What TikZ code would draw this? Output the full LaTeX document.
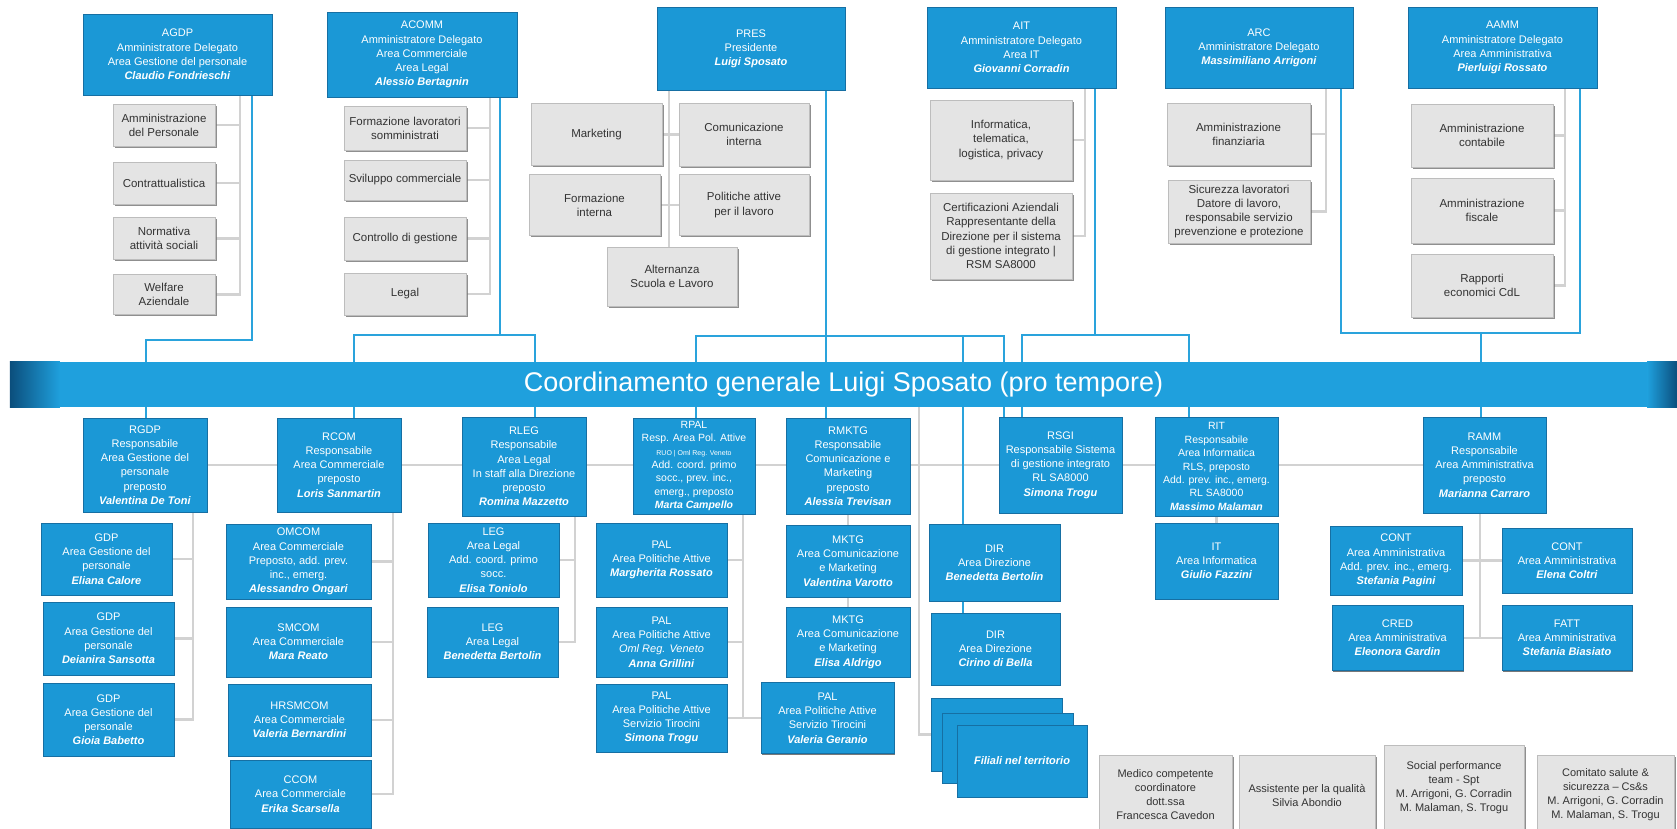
\documentclass[tikz,border=0pt]{standalone}
\usepackage{fontspec}
\setmainfont{Liberation Sans}
\usetikzlibrary{shadows}
\usetikzlibrary{positioning}
\usetikzlibrary{calc}
\usetikzlibrary{backgrounds}

\definecolor{boxblue}{HTML}{1B98D6}
\definecolor{boxedge}{HTML}{166FA3}
\definecolor{lineblue}{HTML}{2AA3DC}
\definecolor{bannerblue}{HTML}{1FA0DD}
\definecolor{bannerdark}{HTML}{0B4E7C}
\definecolor{boxgrey}{HTML}{E4E4E4}
\definecolor{greyedge}{HTML}{BDBDBD}
\definecolor{linegrey}{HTML}{D2D2D2}
\definecolor{textgrey}{HTML}{333333}

\newcommand{\who}[1]{\textbf{\textit{#1}}}

\begin{document}
\begin{tikzpicture}
  [x=1pt,y=-1pt,
  bluebox/.style={rectangle,draw=boxedge,fill=boxblue,text=white,thin,inner sep=1pt,align=center,
    font=\fontsize{11}{14.2}\selectfont,
    drop shadow={shadow xshift=1.3pt,shadow yshift=-1.3pt,fill=black!75,opacity=0.7}},
  tightbox/.style={bluebox,font=\fontsize{10.5}{13.4}\selectfont},
  greybox/.style={rectangle,draw=greyedge,fill=boxgrey,text=textgrey,thin,inner sep=1pt,align=center,
    font=\fontsize{11.5}{14.2}\selectfont,
    drop shadow={shadow xshift=1.6pt,shadow yshift=-1.6pt,fill=black!55,opacity=0.8}},
  notebox/.style={greybox,font=\fontsize{11}{14}\selectfont},
  bannerbar/.style={rectangle,fill=bannerblue,text=white,inner sep=0pt,font=\fontsize{27}{30}\selectfont},
  blueline/.style={draw=lineblue,line width=2.8pt},
  greyline/.style={draw=linegrey,line width=2.2pt}]
  \useasboundingbox (0,0) rectangle (1677,828);

  % top row
  \node[bluebox,minimum width=189,minimum height=81] (agdp) at (177.5,54.5) {AGDP\\Amministratore Delegato\\Area Gestione del personale\\\who{Claudio Fondrieschi}};
  \node[bluebox,minimum width=190,minimum height=85] (acomm) at (422,54.5) {ACOMM\\Amministratore Delegato\\Area Commerciale\\Area Legal\\\who{Alessio Bertagnin}};
  \node[bluebox,minimum width=188,minimum height=83] (pres) at (751,48.5) {PRES\\Presidente\\\who{Luigi Sposato}};
  \node[bluebox,minimum width=189,minimum height=81] (ait) at (1021.5,47.5) {AIT\\Amministratore Delegato\\Area IT\\\who{Giovanni Corradin}};
  \node[bluebox,minimum width=188,minimum height=81] (arc) at (1259,47.5) {ARC\\Amministratore Delegato\\\who{Massimiliano Arrigoni}};
  \node[bluebox,minimum width=189,minimum height=81] (aamm) at (1502.5,47.5) {AAMM\\Amministratore Delegato\\Area Amministrativa\\\who{Pierluigi Rossato}};

  \node[greybox,minimum width=102,minimum height=42] (amper) at (164,125) {Amministrazione\\del Personale};
  \node[greybox,minimum width=102,minimum height=42] (contr) at (164,183) {Contrattualistica};
  \node[greybox,minimum width=102,minimum height=42] (norm) at (164,238.5) {Normativa\\attività sociali};
  \node[greybox,minimum width=102,minimum height=40] (welf) at (164,294.5) {Welfare\\Aziendale};

  \node[greybox,minimum width=122,minimum height=44] (formaz) at (405,128) {Formazione lavoratori\\somministrati};
  \node[greybox,minimum width=122,minimum height=40] (svil) at (405,180) {Sviluppo commerciale};
  \node[greybox,minimum width=122,minimum height=43] (contg) at (405,238.5) {Controllo di gestione};
  \node[greybox,minimum width=122,minimum height=42] (legal) at (405,294) {Legal};

  \node[greybox,minimum width=131,minimum height=62] (mark) at (596.5,134.5) {Marketing};
  \node[greybox,minimum width=130,minimum height=63] (comint) at (744,134.5) {Comunicazione\\interna};
  \node[greybox,minimum width=131,minimum height=61] (formint) at (594.5,205) {Formazione\\interna};
  \node[greybox,minimum width=130,minimum height=61] (polatt) at (744,205) {Politiche attive\\per il lavoro};
  \node[greybox,minimum width=130,minimum height=59] (altern) at (672,276.5) {Alternanza\\Scuola e Lavoro};

  \node[greybox,minimum width=142,minimum height=80] (inform) at (1001,140) {Informatica,\\telematica,\\logistica, privacy};
  \node[greybox,minimum width=142,minimum height=86] (certif) at (1001,236) {Certificazioni Aziendali\\Rappresentante della\\Direzione per il sistema\\di gestione integrato |\\RSM SA8000};

  \node[greybox,minimum width=143,minimum height=62] (ammfin) at (1238.5,134) {Amministrazione\\finanziaria};
  \node[greybox,minimum width=142,minimum height=63] (sicur) at (1239,211.5) {Sicurezza lavoratori\\Datore di lavoro,\\responsabile servizio\\prevenzione e protezione};

  \node[greybox,minimum width=142,minimum height=63] (ammcont) at (1482,135.5) {Amministrazione\\contabile};
  \node[greybox,minimum width=142,minimum height=65] (ammfisc) at (1482,210.5) {Amministrazione\\fiscale};
  \node[greybox,minimum width=142,minimum height=63] (rapp) at (1482,285.5) {Rapporti\\economici CdL};

  % coordinamento
  \node[bannerbar,minimum width=1667,minimum height=45] (banner) at (843.5,384.5) {Coordinamento generale Luigi Sposato (pro tempore)};
  \shade[left color=bannerdark,right color=bannerblue] (banner.north west) rectangle ($(banner.south west)+(50,0)$);
  \shade[left color=bannerblue,right color=bannerdark] ($(banner.north east)+(-30,0)$) rectangle (banner.south east);

  % responsabili
  \node[bluebox,minimum width=124,minimum height=94] (rgdp) at (145,465) {RGDP\\Responsabile\\Area Gestione del\\personale\\preposto\\\who{Valentina De Toni}};
  \node[bluebox,minimum width=124,minimum height=94] (rcom) at (339,465) {RCOM\\Responsabile\\Area Commerciale\\preposto\\\who{Loris Sanmartin}};
  \node[bluebox,minimum width=124,minimum height=99] (rleg) at (524,466.5) {RLEG\\Responsabile\\Area Legal\\In staff alla Direzione\\preposto\\\who{Romina Mazzetto}};
  \node[tightbox,minimum width=122,minimum height=96] (rpal) at (694,466) {RPAL\\Resp. Area Pol. Attive\\{\fontsize{7}{8}\selectfont RUO | Oml Reg. Veneto}\\Add. coord. primo\\socc., prev. inc.,\\emerg., preposto\\\who{Marta Campello}};
  \node[bluebox,minimum width=124,minimum height=96] (rmktg) at (848,466) {RMKTG\\Responsabile\\Comunicazione e\\Marketing\\preposto\\\who{Alessia Trevisan}};
  \node[bluebox,minimum width=123,minimum height=96] (rsgi) at (1060.5,465) {RSGI\\Responsabile Sistema\\di gestione integrato\\RL SA8000\\\who{Simona Trogu}};
  \node[tightbox,minimum width=123,minimum height=99] (rit) at (1216.5,466.5) {RIT\\Responsabile\\Area Informatica\\RLS, preposto\\Add. prev. inc., emerg.\\RL SA8000\\\who{Massimo Malaman}};
  \node[bluebox,minimum width=123,minimum height=96] (ramm) at (1484.5,465) {RAMM\\Responsabile\\Area Amministrativa\\preposto\\\who{Marianna Carraro}};

  \node[bluebox,minimum width=131,minimum height=72] (gdpa) at (106.5,559) {GDP\\Area Gestione del\\personale\\\who{Eliana Calore}};
  \node[bluebox,minimum width=131,minimum height=73] (gdpb) at (108.5,638.5) {GDP\\Area Gestione del\\personale\\\who{Deianira Sansotta}};
  \node[bluebox,minimum width=131,minimum height=73] (gdpc) at (108.5,719.5) {GDP\\Area Gestione del\\personale\\\who{Gioia Babetto}};

  \node[bluebox,minimum width=145,minimum height=75] (omcom) at (298.5,561.5) {OMCOM\\Area Commerciale\\Preposto, add. prev.\\inc., emerg.\\\who{Alessandro Ongari}};
  \node[bluebox,minimum width=145,minimum height=70] (smcom) at (298.5,642) {SMCOM\\Area Commerciale\\\who{Mara Reato}};
  \node[bluebox,minimum width=143,minimum height=72] (hrsmcom) at (299.5,720) {HRSMCOM\\Area Commerciale\\\who{Valeria Bernardini}};
  \node[bluebox,minimum width=141,minimum height=68] (ccom) at (300.5,794) {CCOM\\Area Commerciale\\\who{Erika Scarsella}};

  \node[bluebox,minimum width=131,minimum height=74] (lega) at (493.5,560) {LEG\\Area Legal\\Add. coord. primo\\socc.\\\who{Elisa Toniolo}};
  \node[bluebox,minimum width=131,minimum height=70] (legb) at (492.5,642) {LEG\\Area Legal\\\who{Benedetta Bertolin}};

  \node[bluebox,minimum width=131,minimum height=74] (pala) at (661.5,560) {PAL\\Area Politiche Attive\\\who{Margherita Rossato}};
  \node[bluebox,minimum width=131,minimum height=70] (palb) at (661.5,642) {PAL\\Area Politiche Attive\\\textit{Oml Reg. Veneto}\\\who{Anna Grillini}};
  \node[bluebox,minimum width=131,minimum height=68] (palc) at (661.5,718) {PAL\\Area Politiche Attive\\Servizio Tirocini\\\who{Simona Trogu}};
  \node[bluebox,minimum width=133,minimum height=71] (pald) at (827.5,718) {PAL\\Area Politiche Attive\\Servizio Tirocini\\\who{Valeria Geranio}};

  \node[bluebox,minimum width=124,minimum height=72] (mktga) at (848,561) {MKTG\\Area Comunicazione\\e Marketing\\\who{Valentina Varotto}};
  \node[bluebox,minimum width=124,minimum height=70] (mktgb) at (848,642) {MKTG\\Area Comunicazione\\e Marketing\\\who{Elisa Aldrigo}};

  \node[bluebox,minimum width=131,minimum height=77] (dira) at (994.5,562.5) {DIR\\Area Direzione\\\who{Benedetta Bertolin}};
  \node[bluebox,minimum width=129,minimum height=72] (dirb) at (995.5,649) {DIR\\Area Direzione\\\who{Cirino di Bella}};
  \node[bluebox,minimum width=131,minimum height=73] (fila) at (996.5,734.5) {};
  \node[bluebox,minimum width=131,minimum height=70] (filb) at (1007.5,748) {};
  \node[bluebox,minimum width=130,minimum height=72] (filc) at (1022,761) {\who{Filiali nel territorio}};

  \node[bluebox,minimum width=123,minimum height=76] (it) at (1216.5,561) {IT\\Area Informatica\\\who{Giulio Fazzini}};

  \node[bluebox,minimum width=132,minimum height=69] (conta) at (1396,560.5) {CONT\\Area Amministrativa\\Add. prev. inc., emerg.\\\who{Stefania Pagini}};
  \node[bluebox,minimum width=130,minimum height=65] (contb) at (1567,560.5) {CONT\\Area Amministrativa\\\who{Elena Coltri}};
  \node[bluebox,minimum width=131,minimum height=65] (cred) at (1397.5,638) {CRED\\Area Amministrativa\\\who{Eleonora Gardin}};
  \node[bluebox,minimum width=130,minimum height=65] (fatt) at (1567,638) {FATT\\Area Amministrativa\\\who{Stefania Biasiato}};

  % staff
  \node[notebox,minimum width=133,minimum height=80] (medico) at (1165.5,795) {Medico competente\\coordinatore\\dott.ssa\\Francesca Cavedon};
  \node[notebox,minimum width=136,minimum height=80] (assist) at (1307,795) {Assistente per la qualità\\Silvia Abondio};
  \node[notebox,minimum width=140,minimum height=86] (social) at (1454,788) {Social performance\\team - Spt\\M. Arrigoni, G. Corradin\\M. Malaman, S. Trogu};
  \node[notebox,minimum width=137,minimum height=80] (comit) at (1605.5,795) {Comitato salute \&\\sicurezza -- Cs\&s\\M. Arrigoni, G. Corradin\\M. Malaman, S. Trogu};

  \coordinate (agdpbus) at (240,95);
  \coordinate (acommbus) at (490,97);
  \coordinate (presbus) at (669,90);
  \coordinate (aitbus) at (1085,88);
  \coordinate (arcbus) at (1326,88);
  \coordinate (aammbus) at (1565,88);

  \coordinate (agdpdrop) at (252,340);
  \coordinate (rgdpdrop) at (146,340);
  \coordinate (acommdrop) at (500,335);
  \coordinate (rcomdrop) at (354,335);
  \coordinate (rlegdrop) at (535,335);
  \coordinate (rpaldrop) at (696,336);
  \coordinate (presdrop) at (826,336);
  \coordinate (dirdrop) at (963,336);
  \coordinate (rsgidropa) at (1004,336);
  \coordinate (rsgidropb) at (1022,335);
  \coordinate (aitdrop) at (1095,335);
  \coordinate (ritdrop) at (1189,335);
  \coordinate (arcdrop) at (1341,333);
  \coordinate (rammdrop) at (1481,333);
  \coordinate (aammdrop) at (1580,333);

  \coordinate (rgdpbus) at (193,512);
  \coordinate (rcombus) at (393,512);
  \coordinate (rlegbus) at (575,516);
  \coordinate (rpalbus) at (743,514);
  \coordinate (rammbus) at (1480,513);
  \coordinate (filbus) at (919,407);

  \begin{scope}[on background layer]
  \fill[white] (0,0) rectangle (1677,828);

  \draw[greyline] (agdp.south -| agdpbus) |- (welf.east);
  \draw[greyline] (amper.east) -- (amper.east -| agdpbus);
  \draw[greyline] (contr.east) -- (contr.east -| agdpbus);
  \draw[greyline] (norm.east) -- (norm.east -| agdpbus);

  \draw[greyline] (acomm.south -| acommbus) |- (legal.east);
  \draw[greyline] (formaz.east) -- (formaz.east -| acommbus);
  \draw[greyline] (svil.east) -- (svil.east -| acommbus);
  \draw[greyline] (contg.east) -- (contg.east -| acommbus);

  \draw[greyline] (pres.south -| presbus) -- (altern.north -| presbus);
  \draw[greyline] (mark.east) -- (comint.west);
  \draw[greyline] (formint.east) -- (polatt.west);

  \draw[greyline] (ait.south -| aitbus) |- (certif.east);
  \draw[greyline] (inform.east) -- (inform.east -| aitbus);

  \draw[greyline] (arc.south -| arcbus) |- (sicur.east);
  \draw[greyline] (ammfin.east) -- (ammfin.east -| arcbus);

  \draw[greyline] (aamm.south -| aammbus) |- (rapp.east);
  \draw[greyline] (ammcont.east) -- (ammcont.east -| aammbus);
  \draw[greyline] (ammfisc.east) -- (ammfisc.east -| aammbus);

  \draw[greyline] (rgdp.east) -- (ramm.west);
  \draw[greyline] (filbus) |- (fila.west);

  \draw[greyline] (rgdpbus) |- (gdpc.east);
  \draw[greyline] (gdpa.east) -- (gdpa.east -| rgdpbus);
  \draw[greyline] (gdpb.east) -- (gdpb.east -| rgdpbus);

  \draw[greyline] (rcombus) |- (ccom.east);
  \draw[greyline] (omcom.east) -- (omcom.east -| rcombus);
  \draw[greyline] (smcom.east) -- (smcom.east -| rcombus);
  \draw[greyline] (hrsmcom.east) -- (hrsmcom.east -| rcombus);

  \draw[greyline] (rlegbus) |- (legb.east);
  \draw[greyline] (lega.east) -- (lega.east -| rlegbus);

  \draw[greyline] (rpalbus) |- (palc.east);
  \draw[greyline] (pala.east) -- (pala.east -| rpalbus);
  \draw[greyline] (palb.east) -- (palb.east -| rpalbus);
  \draw[greyline] (palc.east) -- (pald.west);

  \draw[greyline] (rmktg.south) -- (mktgb.north);
  \draw[greyline] (rit.south) -- (it.north);

  \draw[greyline] (rammbus) -- (rammbus |- cred.east);
  \draw[greyline] (conta.east) -- (contb.west);
  \draw[greyline] (cred.east) -- (fatt.west);

  \draw[blueline] (agdp.south -| agdpdrop) -- (agdpdrop) -- (rgdpdrop) -- (rgdpdrop |- rgdp.north);
  \draw[blueline] (acomm.south -| acommdrop) -- (acommdrop);
  \draw[blueline] (rcomdrop |- rcom.north) -- (rcomdrop) -- (rlegdrop) -- (rlegdrop |- rleg.north);
  \draw[blueline] (rpaldrop |- rpal.north) -- (rpaldrop) -- (rsgidropa) -- (rsgidropa |- rsgi.north);
  \draw[blueline] (pres.south -| presdrop) -- (presdrop |- rmktg.north);
  \draw[blueline] (dirdrop) -- (dirdrop |- dira.north);
  \draw[blueline] (dira.south -| dirdrop) -- (dirb.north -| dirdrop);
  \draw[blueline] (ait.south -| aitdrop) -- (aitdrop);
  \draw[blueline] (rsgidropb |- rsgi.north) -- (rsgidropb) -- (ritdrop) -- (ritdrop |- rit.north);
  \draw[blueline] (arc.south -| arcdrop) -- (arcdrop) -- (aammdrop) -- (aamm.south -| aammdrop);
  \draw[blueline] (rammdrop) -- (rammdrop |- ramm.north);
  \end{scope}

\end{tikzpicture}
\end{document}
